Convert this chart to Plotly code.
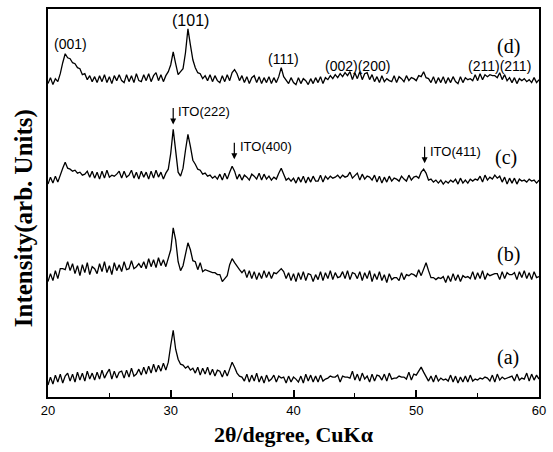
import numpy as np
import plotly.graph_objects as go

# scan grid: 20.0 .. 60.0 deg, 0.2 deg step
scan_start, scan_end = 20.0, 60.0

# intensities (arb. units, curves already offset)
int_d = [315,321,314,320,317,325,336,345,341,340,
         336,335,331,330,324,325,319,323,317,322,
         316,323,317,324,316,322,315,323,318,324,
         318,316,324,317,323,316,325,318,317,324,
         318,325,317,323,326,318,324,317,323,327,
         334,347,335,324,327,330,346,370,354,339,
         331,326,325,320,323,318,324,317,323,318,
         316,323,317,324,318,326,329,325,318,323,
         316,322,315,321,323,316,322,315,321,316,
         322,315,321,316,322,331,322,319,315,321,
         316,314,321,315,320,318,314,320,315,321,
         316,322,315,321,319,323,320,324,321,325,
         322,326,323,327,319,326,320,327,319,325,
         326,319,324,317,322,316,323,317,320,318,
         317,323,316,322,320,317,323,318,321,320,
         318,323,322,327,321,320,316,322,315,321,
         316,322,315,321,316,322,317,315,322,316,
         321,319,320,318,324,318,325,319,324,322,
         324,323,323,321,326,319,324,318,321,316,
         321,315,320,318,320,317,319,316,321,316,
         319]

int_c = [214,221,215,222,216,224,230,236,230,229,
         227,228,225,226,223,224,227,221,227,220,
         226,219,227,220,228,221,223,222,224,227,
         220,227,221,223,228,220,226,219,227,221,
         226,219,227,220,228,221,226,219,225,229,
         245,269,245,226,222,230,248,264,252,238,
         234,229,228,224,225,222,223,220,222,219,
         224,218,225,219,226,232,227,219,224,218,
         223,221,218,224,222,219,225,218,224,219,
         222,218,221,219,225,230,224,218,220,217,
         220,215,221,216,222,215,221,216,222,217,
         217,223,216,222,219,222,220,221,223,220,
         223,221,222,226,220,223,225,218,224,219,
         222,221,218,223,216,222,215,221,216,222,
         217,220,219,217,222,219,217,223,218,221,
         222,220,226,229,225,218,219,216,218,215,
         218,214,217,215,218,216,219,214,220,215,
         218,215,219,217,219,218,222,216,223,218,
         221,219,223,220,222,216,221,214,220,215,
         220,214,219,217,218,216,219,217,218,215,
         218]

int_b = [116,124,117,127,119,129,129,128,136,127,
         134,124,132,122,133,125,135,123,131,129,
         124,134,126,136,125,132,123,135,127,133,
         126,136,128,129,137,129,131,134,130,136,
         129,139,131,138,130,140,132,138,131,141,
         148,170,158,136,127,132,142,155,148,137,
         136,128,135,126,128,127,126,125,125,123,
         123,116,119,122,133,139,135,131,128,125,
         128,120,127,119,126,118,125,119,127,120,
         126,119,125,124,127,129,126,119,125,117,
         124,116,125,118,126,117,124,123,116,123,
         118,126,117,125,119,127,118,125,120,121,
         126,119,127,118,125,124,119,126,117,125,
         119,127,116,124,118,126,117,123,115,124,
         118,120,120,117,125,118,123,122,124,123,
         121,128,122,129,135,127,120,120,118,120,
         119,121,115,122,116,124,117,123,116,122,
         120,121,119,126,118,125,119,127,118,124,
         122,123,124,124,118,126,119,125,123,123,
         125,118,126,120,127,119,125,118,126,120,
         121]

int_a = [12,20,13,22,15,23,14,21,24,16,
         23,15,25,17,24,16,26,18,24,17,
         25,18,27,19,24,28,18,26,19,25,
         26,19,27,20,29,21,23,28,22,30,
         23,31,24,33,25,32,26,34,27,35,
         52,67,48,38,33,32,29,31,27,29,
         24,30,22,29,23,30,22,28,21,27,
         26,20,27,21,28,35,30,24,21,20,
         16,23,15,22,16,24,15,21,14,22,
         16,18,22,15,21,19,20,14,21,15,
         20,18,15,21,14,23,16,22,15,21,
         15,22,16,18,19,21,20,20,22,15,
         21,20,20,19,26,17,23,16,24,18,
         21,15,23,16,22,21,17,23,16,24,
         18,19,19,21,20,20,18,25,17,23,
         22,26,30,25,20,16,21,15,22,16,
         19,17,18,16,22,15,21,14,20,15,
         21,15,22,16,18,17,19,18,20,19,
         16,22,15,23,17,20,18,19,20,21,
         16,23,17,19,18,24,16,23,17,22,
         18]

series = [("(a)", int_a), ("(b)", int_b), ("(c)", int_c), ("(d)", int_d)]

# peak labels: (text, 2theta, intensity, font size)
peak_labels = [("(001)", 21.85, 355, 14), ("(101)", 31.57, 378, 16),
               ("(111)", 39.2, 340, 14), ("(002)(200)", 45.2, 333, 14),
               ("(211)(211)", 56.8, 333, 14)]
curve_labels = [("(d)", 57.5, 352), ("(c)", 57.35, 241),
                ("(b)", 57.5, 143), ("(a)", 57.5, 40)]
# ITO arrows: (text, arrow 2theta, arrow tip intensity, text 2theta, text intensity)
ito_labels = [("ITO(222)", 30.2, 274, 30.44, 287),
              ("ITO(400)", 35.18, 239, 35.5, 252),
              ("ITO(411)", 50.68, 235, 50.92, 247)]

sans = "Arial, Liberation Sans, sans-serif"
serif = "Times New Roman, Liberation Serif, serif"

fig = go.Figure()
for name, vals in series:
    x = np.linspace(scan_start, scan_end, len(vals))
    fig.add_trace(go.Scatter(x=x, y=vals, mode="lines", name=name,
                             line=dict(color="black", width=1.3),
                             showlegend=False, hoverinfo="skip"))

ann = []
for t, x, y, s in peak_labels:
    ann.append(dict(x=x, y=y, text=t, showarrow=False,
                    font=dict(family=sans, size=s, color="black")))
for t, x, y in curve_labels:
    ann.append(dict(x=x, y=y, text=t, showarrow=False,
                    font=dict(family=serif, size=20, color="black")))
for t, ax_, ay_, tx, ty in ito_labels:
    ann.append(dict(x=ax_, y=ay_, text="", showarrow=True, ax=0, ay=-18,
                    arrowhead=2, arrowsize=1, arrowwidth=1.2, arrowcolor="black"))
    ann.append(dict(x=tx, y=ty, text=t, showarrow=False, xanchor="left",
                    font=dict(family=sans, size=13, color="black")))
ann.append(dict(xref="paper", yref="paper", x=-0.05, y=0.462,
                xanchor="center", yanchor="middle",
                text="<b>Intensity(arb. Units)</b>", textangle=-90, showarrow=False,
                font=dict(family=serif, size=25, color="black")))

fig.update_layout(
    width=553, height=452,
    margin=dict(l=48, r=7, t=7, b=55),
    paper_bgcolor="white", plot_bgcolor="white",
    annotations=ann,
    xaxis=dict(range=[20, 60], tickvals=[20, 30, 40, 50, 60],
               ticks="inside", ticklen=7, tickwidth=1.5, tickcolor="black",
               minor=dict(ticks="inside", dtick=5, ticklen=4, tickwidth=1.2, tickcolor="black", showgrid=False),
               showline=True, linewidth=2, linecolor="black", mirror=True,
               showgrid=False, zeroline=False,
               tickfont=dict(family=sans, size=13, color="black"),
               title=dict(text="<b>2θ/degree, CuKα</b>", standoff=10,
                          font=dict(family=serif, size=22, color="black"))),
    yaxis=dict(range=[0, 390], showticklabels=False, ticks="",
               showline=True, linewidth=2, linecolor="black", mirror=True,
               showgrid=False, zeroline=False),
)

fig.write_html("out.html")
